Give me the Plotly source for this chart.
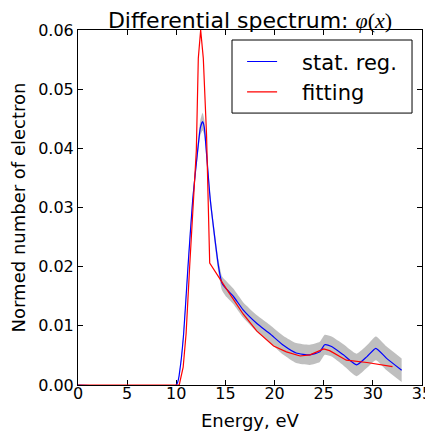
import plotly.graph_objects as go

# Statistical regularization result (blue) with its uncertainty band
energy_reg = [0, 10.0, 10.4, 10.75, 11.19, 11.67, 12.18, 12.45, 12.68, 12.85, 13.05,
              13.46, 14.3, 14.65, 15.0, 15.8, 16.8, 18.2, 19.5, 20.9, 22.2,
              23.6, 24.6, 25.1, 25.8, 27.0, 28.35, 29.4, 30.3, 31.4, 32.93]
phi_reg = [0, 0, 0.003, 0.0087, 0.020, 0.0313, 0.0397, 0.0435, 0.0445, 0.0435, 0.0397,
           0.0313, 0.020, 0.0172, 0.0164, 0.0150, 0.0127, 0.0104, 0.0087, 0.0067, 0.0054,
           0.0051, 0.0056, 0.0068, 0.0065, 0.0051, 0.0034, 0.0048, 0.0062, 0.0045, 0.0025]
phi_err = [0, 0, 0.0003, 0.0005, 0.0006, 0.0008, 0.0010, 0.0013, 0.0015, 0.0013, 0.0011,
           0.0010, 0.0011, 0.0012, 0.0013, 0.0013, 0.0013, 0.0014, 0.0015, 0.0016, 0.0017,
           0.0017, 0.0017, 0.0017, 0.0017, 0.0018, 0.0019, 0.0019, 0.0020, 0.0020, 0.0020]

# Fitting result (red)
energy_fit = [0, 10.3, 10.7, 11.0, 11.36, 11.77, 12.04, 12.24, 12.48, 12.75, 13.08, 13.4,
              14.65, 15.0, 16.8, 18.2, 19.9, 21.2, 22.6, 23.6, 25.0, 25.6, 27.3, 29.4, 32.0]
phi_fit = [0, 0, 0.003, 0.0087, 0.020, 0.0313, 0.0397, 0.0552, 0.060, 0.0552, 0.0422, 0.0206,
           0.0173, 0.0165, 0.0120, 0.0091, 0.0066, 0.0056, 0.0049, 0.0051, 0.0061, 0.0058,
           0.0042, 0.0038, 0.0031]

x_ticks = [0, 5, 10, 15, 20, 25, 30, 35]
y_ticks = [0.00, 0.01, 0.02, 0.03, 0.04, 0.05, 0.06]

upper = [v + e for v, e in zip(phi_reg, phi_err)]
lower = [v - e for v, e in zip(phi_reg, phi_err)]

fig = go.Figure()
fig.add_trace(go.Scatter(x=energy_reg, y=upper, mode="lines",
                         line=dict(width=0, shape="spline", smoothing=0.5),
                         showlegend=False, hoverinfo="skip"))
fig.add_trace(go.Scatter(x=energy_reg, y=lower, mode="lines", fill="tonexty",
                         fillcolor="rgba(128,128,128,0.5)",
                         line=dict(width=0, shape="spline", smoothing=0.5),
                         showlegend=False, hoverinfo="skip"))
fig.add_trace(go.Scatter(x=energy_reg, y=phi_reg, mode="lines", name="\u00a0\u00a0\u00a0stat. reg.",
                         line=dict(color="#0000ff", width=1.2, shape="spline", smoothing=0.5)))
fig.add_trace(go.Scatter(x=energy_fit, y=phi_fit, mode="lines", name="\u00a0\u00a0\u00a0fitting",
                         line=dict(color="#ff0000", width=1.2)))

axis_common = dict(showline=True, linecolor="black", linewidth=1, mirror="ticks",
                   ticks="inside", ticklen=5, tickcolor="black", showgrid=False,
                   zeroline=False, layer="below traces", automargin=False,
                   tickfont=dict(family="DejaVu Sans", size=16, color="black"))

fig.update_layout(
    width=425, height=423,
    margin=dict(l=70, r=11, t=22, b=46),
    paper_bgcolor="white", plot_bgcolor="white",
    font=dict(family="DejaVu Sans", color="black"),
    title=dict(text="Differential spectrum: <span style=\"font-family:'Liberation Serif'\"><i>φ</i>(<i>x</i>)</span>",
               x=0.5, xanchor="center", xref="paper", y=0.952, yanchor="bottom", yref="container",
               font=dict(family="DejaVu Sans", size=22, color="black")),
    xaxis=dict(range=[0, 35], tickvals=x_ticks, ticktext=[str(t) for t in x_ticks],
               ticklabelstandoff=-6, **axis_common),
    yaxis=dict(range=[0, 0.06], tickvals=y_ticks, ticktext=[f"{t:.2f}" for t in y_ticks],
               title=dict(text="Normed number of electron", font=dict(size=18), standoff=10),
               **axis_common),
    legend=dict(x=0.477, y=0.968, xanchor="left", yanchor="top", traceorder="normal",
                borderwidth=0, bgcolor="rgba(0,0,0,0)",
                font=dict(family="DejaVu Sans", size=21, color="black"),
                tracegroupgap=0),
    shapes=[dict(type="rect", xref="paper", yref="paper", x0=0.4477, x1=0.971,
                 y0=0.766, y1=0.9718, line=dict(color="black", width=1),
                 fillcolor="white", layer="above")],
    annotations=[dict(text="Energy, eV", xref="paper", yref="paper", x=0.5, y=-0.0986,
                      xanchor="center", yanchor="middle", showarrow=False,
                      font=dict(family="DejaVu Sans", size=18, color="black"))],
)

fig.write_html("out.html")
